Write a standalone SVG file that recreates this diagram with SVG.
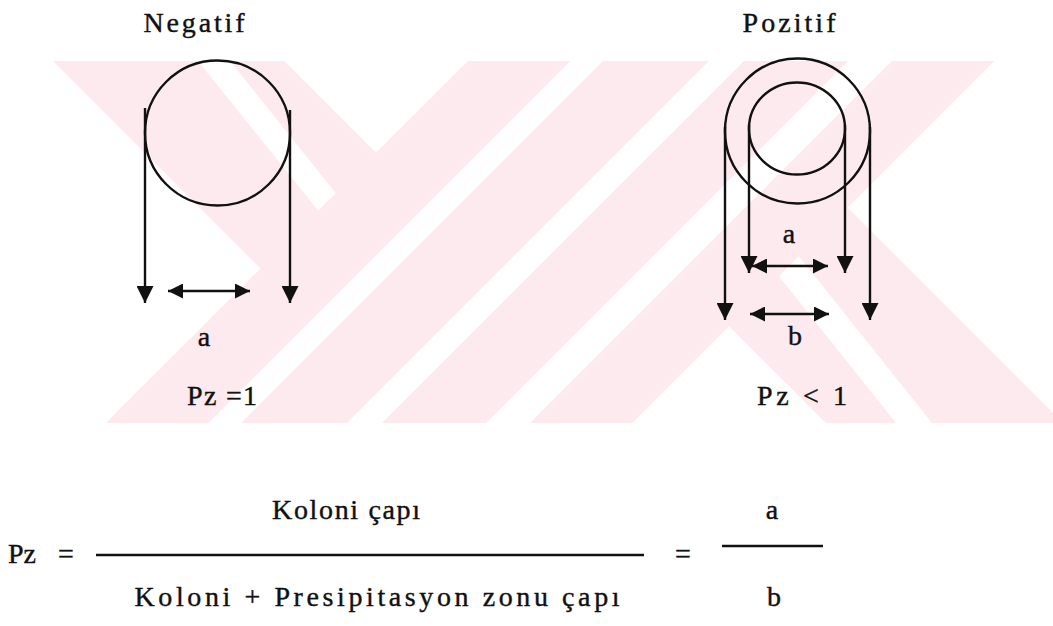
<svg xmlns="http://www.w3.org/2000/svg" width="1053" height="626" viewBox="0 0 1053 626">
  <style>
    .t { font-size: 28px; fill: #111; stroke: #111; stroke-width: 0.4; }
    .ring { fill: none; stroke: #111; stroke-width: 2.4; }
    .ln { fill: none; stroke: #111; stroke-width: 2.4; }
    .wm { fill: #fdeaee; }
  </style>
  <defs>
    <marker id="head" viewBox="0 0 10 10" refX="10" refY="5" markerUnits="userSpaceOnUse" markerWidth="17" markerHeight="17" orient="auto-start-reverse">
      <path d="M0,0 L10,5 L0,10 z" fill="#111"/>
    </marker>
    <marker id="headS" viewBox="0 0 10 10" refX="10" refY="5" markerUnits="userSpaceOnUse" markerWidth="16" markerHeight="15" orient="auto-start-reverse">
      <path d="M0,0 L10,5 L0,10 z" fill="#111"/>
    </marker>
    <clipPath id="wmclip">
      <rect x="0" y="61" width="1053" height="362"/>
    </clipPath>
  </defs>

  <rect width="1053" height="626" fill="#fff"/>

  <!-- faint striped background emblem -->
  <g id="watermark" clip-path="url(#wmclip)">
    <path class="wm" d="
      M53,61 L198,61 L332,228 L276,284 Z
      M230,61 L284,61 L391.5,168.5 L349.6,210.5 Z
      M468,61 L570,61 L208,423 L106,423 Z
      M603,61 L709,61 L347,423 L241,423 Z
      M744,61 L848,61 L486,423 L382,423 Z
      M892,61 L994,61 L632,423 L530,423 Z
      M820,180 L1063,423 L932,423 L774.4,225.6 Z
      M754.4,245.6 L896,423 L826,423 L701.5,298.5 Z"/>
  </g>

  <g font-family="'Liberation Serif', 'DejaVu Serif', serif">
    <!-- negative colony -->
    <g id="node-negatif">
      <text class="t" x="194" y="32" text-anchor="middle" textLength="101">Negatif</text>
      <circle class="ring" cx="217.5" cy="133" r="72.5"/>
    </g>

    <!-- positive colony with precipitation zone -->
    <g id="node-pozitif">
      <text class="t" x="789" y="32" text-anchor="middle" textLength="93">Pozitif</text>
      <circle class="ring" cx="797.5" cy="131" r="72.5"/>
      <ellipse class="ring" cx="797" cy="128.5" rx="48" ry="46"/>
    </g>

    <!-- diameter projections -->
    <g id="connectors">
      <line class="ln" x1="145" y1="108" x2="145" y2="303" marker-end="url(#head)"/>
      <line class="ln" x1="290" y1="110" x2="290" y2="303" marker-end="url(#head)"/>
      <line class="ln" x1="168" y1="291" x2="250" y2="291" marker-start="url(#headS)" marker-end="url(#headS)"/>

      <line class="ln" x1="725" y1="127" x2="725" y2="320" marker-end="url(#head)"/>
      <line class="ln" x1="870" y1="127" x2="870" y2="320" marker-end="url(#head)"/>
      <line class="ln" x1="749" y1="125" x2="749" y2="273" marker-end="url(#head)"/>
      <line class="ln" x1="845" y1="125" x2="845" y2="273" marker-end="url(#head)"/>
      <line class="ln" x1="752" y1="266" x2="828" y2="266" marker-start="url(#headS)" marker-end="url(#headS)"/>
      <line class="ln" x1="750" y1="314" x2="829" y2="314" marker-start="url(#headS)" marker-end="url(#headS)"/>
    </g>

    <g id="labels">
      <text class="t" x="204" y="346" text-anchor="middle">a</text>
      <text class="t" x="222" y="405" text-anchor="middle" textLength="70">Pz =1</text>
      <text class="t" x="789" y="243" text-anchor="middle">a</text>
      <text class="t" x="795" y="345" text-anchor="middle">b</text>
      <text class="t" x="802" y="405" text-anchor="middle" textLength="90">Pz &lt; 1</text>
    </g>

    <!-- Pz ratio formula -->
    <g id="formula">
      <text class="t" x="346" y="519" text-anchor="middle" textLength="148">Koloni çapı</text>
      <text class="t" x="8" y="563" font-size="31">Pz</text>
      <text class="t" x="66" y="563" text-anchor="middle">=</text>
      <line class="ln" x1="96" y1="555" x2="644" y2="555"/>
      <text class="t" x="683" y="563" text-anchor="middle">=</text>
      <line class="ln" x1="722" y1="546" x2="823" y2="546"/>
      <text class="t" x="772" y="519" text-anchor="middle">a</text>
      <text class="t" x="377" y="606" text-anchor="middle" textLength="485">Koloni + Presipitasyon zonu çapı</text>
      <text class="t" x="774" y="606" text-anchor="middle">b</text>
    </g>
  </g>
</svg>
